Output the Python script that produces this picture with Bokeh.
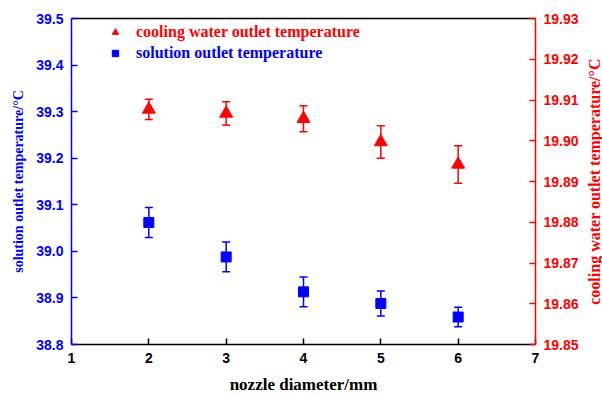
from bokeh.plotting import figure
from bokeh.layouts import row
from bokeh.models import (Range1d, LinearAxis, FixedTicker, Whisker, TeeHead,
                          ColumnDataSource, Legend, LegendItem)
from bokeh.embed import file_html
from bokeh.resources import INLINE

# ---- data ----
nozzle = [2, 3, 4, 5, 6]
sol_temp = [39.062, 38.988, 38.913, 38.888, 38.859]
sol_err = [0.032, 0.032, 0.032, 0.027, 0.021]
cool_temp = [19.9077, 19.9067, 19.9054, 19.8997, 19.8942]
cool_err = [0.0025, 0.0029, 0.0032, 0.0040, 0.0046]
x_ticks = [1, 2, 3, 4, 5, 6, 7]
left_ticks = [38.8, 38.9, 39.0, 39.1, 39.2, 39.3, 39.4, 39.5]
right_ticks = [19.85, 19.86, 19.87, 19.88, 19.89, 19.90, 19.91, 19.92, 19.93]

BLUE = "#0000ff"
RED = "#ff0000"
TICK_FONT = "Liberation Sans"
LABEL_FONT = "Liberation Serif"

p = figure(width=582, height=396, output_backend="svg", toolbar_location=None,
           x_range=Range1d(1, 7), y_range=Range1d(38.8, 39.5),
           x_axis_location=None, y_axis_location=None)
p.extra_y_ranges = {"right": Range1d(19.85, 19.93)}
p.min_border_left = 71
p.min_border_right = 47
p.min_border_top = 18
p.min_border_bottom = 51
p.outline_line_color = None
p.xgrid.visible = False
p.ygrid.visible = False
p.background_fill_color = "white"
p.border_fill_color = "white"

def style_axis(ax, color, label_color, label_size):
    ax.axis_line_color = color
    ax.axis_line_width = 1.5
    ax.major_tick_line_color = color
    ax.major_tick_line_width = 1.5
    ax.major_tick_in = 6
    ax.major_tick_out = 0
    ax.minor_tick_line_color = None
    ax.major_label_text_color = label_color
    ax.major_label_text_font = TICK_FONT
    ax.major_label_text_font_style = "bold"
    ax.major_label_text_font_size = "14px"
    ax.major_label_standoff = 8
    ax.axis_label_text_color = label_color
    ax.axis_label_text_font = LABEL_FONT
    ax.axis_label_text_font_style = "bold"
    ax.axis_label_text_font_size = label_size

# bottom axis
xax = LinearAxis(ticker=FixedTicker(ticks=x_ticks), axis_label="nozzle diameter/mm")
style_axis(xax, "black", "black", "17px")
xax.axis_label_standoff = 9
p.add_layout(xax, "below")

# left axis
lax = LinearAxis(ticker=FixedTicker(ticks=left_ticks),
                 axis_label="solution outlet temperature/\u00b0C")
style_axis(lax, BLUE, BLUE, "14px")
lax.axis_label_standoff = 7
lax.major_label_overrides = {t: f"{t:.1f}" for t in left_ticks}
p.add_layout(lax, "left")

# right axis (its title is drawn in a narrow strip so it reads bottom-to-top)
rax = LinearAxis(y_range_name="right", ticker=FixedTicker(ticks=right_ticks))
style_axis(rax, RED, RED, "16px")
rax.major_label_overrides = {t: f"{t:.2f}" for t in right_ticks}
p.add_layout(rax, "right")

# top axis (plain line)
tax = LinearAxis(ticker=FixedTicker(ticks=[]))
tax.axis_line_color = "black"
tax.axis_line_width = 1.5
tax.major_tick_line_color = None
tax.minor_tick_line_color = None
tax.major_label_text_font_size = "0px"
p.add_layout(tax, "above")

# data sources
sol_src = ColumnDataSource(dict(
    x=nozzle, y=sol_temp,
    lo=[v - e for v, e in zip(sol_temp, sol_err)],
    hi=[v + e for v, e in zip(sol_temp, sol_err)]))
cool_src = ColumnDataSource(dict(
    x=nozzle, y=cool_temp,
    lo=[v - e for v, e in zip(cool_temp, cool_err)],
    hi=[v + e for v, e in zip(cool_temp, cool_err)]))

wb = Whisker(base="x", lower="lo", upper="hi", source=sol_src,
             line_color=BLUE, line_width=1.5,
             upper_head=TeeHead(size=8, line_color=BLUE, line_width=1.5),
             lower_head=TeeHead(size=8, line_color=BLUE, line_width=1.5))
p.add_layout(wb)
wr = Whisker(base="x", lower="lo", upper="hi", source=cool_src, y_range_name="right",
             line_color=RED, line_width=1.5,
             upper_head=TeeHead(size=8, line_color=RED, line_width=1.5),
             lower_head=TeeHead(size=8, line_color=RED, line_width=1.5))
p.add_layout(wr)

r_sol = p.scatter("x", "y", source=sol_src, marker="square", size=10,
                  fill_color=BLUE, line_color=BLUE)
r_cool = p.scatter("x", "y", source=cool_src, marker="triangle", size=13,
                   fill_color=RED, line_color=RED, y_range_name="right")

def make_legend(label, renderer, color, loc):
    lg = Legend(items=[LegendItem(label=label, renderers=[renderer])],
                location=loc, padding=0, margin=0, spacing=0,
                border_line_color=None, background_fill_alpha=0,
                glyph_width=16, glyph_height=18, label_height=18,
                label_standoff=13,
                label_text_font=LABEL_FONT, label_text_font_style="bold",
                label_text_font_size="16px", label_text_color=color)
    p.add_layout(lg)

make_legend("cooling water outlet temperature", r_cool, RED, (36, 303))
make_legend("solution outlet temperature", r_sol, BLUE, (36, 282))

# narrow strip holding the right-hand axis title
p2 = figure(width=20, height=396, output_backend="svg", toolbar_location=None,
            x_range=Range1d(0, 1), y_range=Range1d(19.85, 19.93),
            x_axis_location=None, y_axis_location=None)
p2.min_border_left = 0
p2.min_border_right = 0
p2.min_border_top = 18
p2.min_border_bottom = 51
p2.outline_line_color = None
p2.xgrid.visible = False
p2.ygrid.visible = False
p2.border_fill_color = "white"
p2.background_fill_color = "white"
tax2 = LinearAxis(ticker=FixedTicker(ticks=[]),
                  axis_label="cooling water outlet temperature/\u00b0C")
tax2.axis_line_color = None
tax2.major_tick_line_color = None
tax2.minor_tick_line_color = None
tax2.major_label_text_font_size = "0px"
tax2.major_tick_in = 0
tax2.major_tick_out = 0
tax2.major_label_standoff = 0
tax2.axis_label_standoff = 0
tax2.axis_label_text_color = RED
tax2.axis_label_text_font = LABEL_FONT
tax2.axis_label_text_font_style = "bold"
tax2.axis_label_text_font_size = "16px"
p2.add_layout(tax2, "left")

layout = row(p, p2)
open("out.html", "w").write(file_html(layout, INLINE))
